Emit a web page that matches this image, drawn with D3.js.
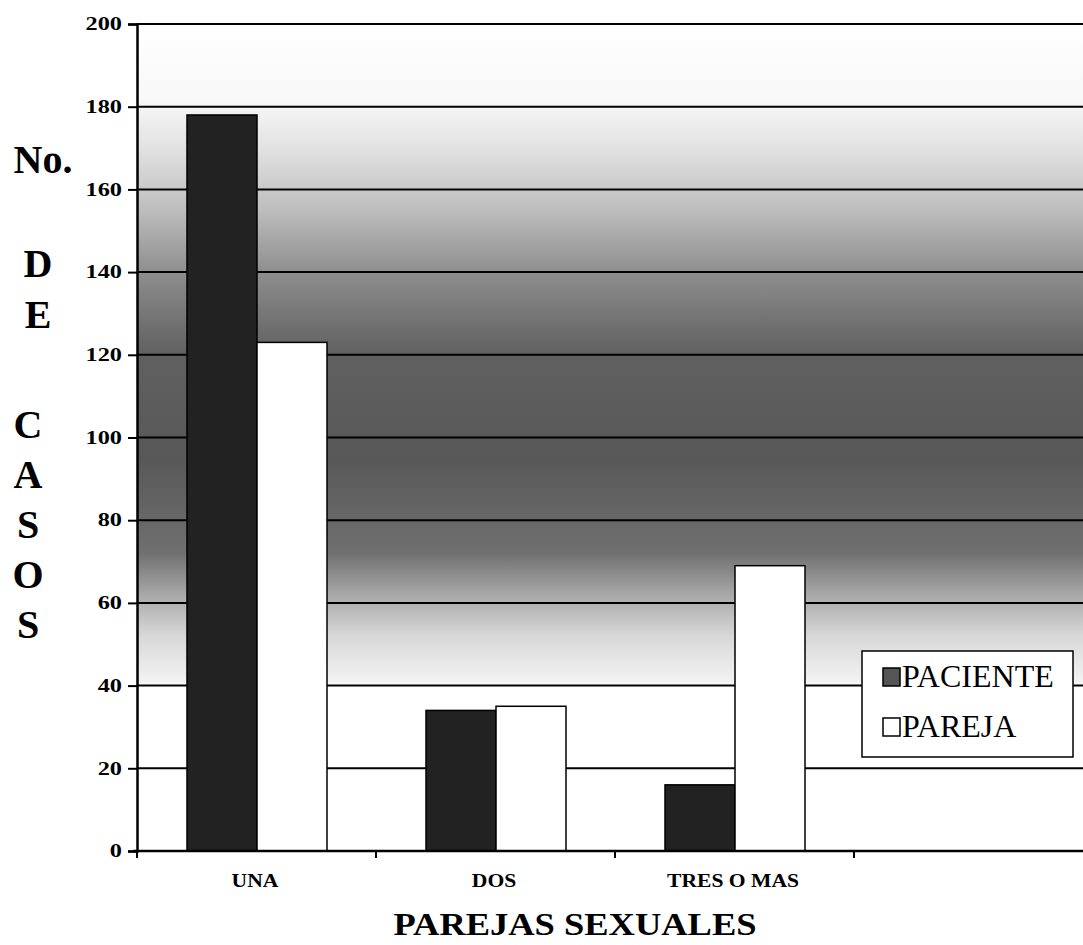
<!DOCTYPE html>
<html>
<head>
<meta charset="utf-8">
<script src="https://cdn.jsdelivr.net/npm/d3@7"></script>
<style>
  body { margin: 0; background: #fff; }
  text { font-family: "Liberation Serif", "Times New Roman", serif; fill: #000; }
</style>
</head>
<body>
<div id="chart"></div>
<script>
// data
const categories = ["UNA", "DOS", "TRES O MAS", ""];
const seriesNames = ["PACIENTE", "PAREJA"];
const paciente = [178, 34, 16];
const pareja = [123, 35, 69];
const yTicks = [0, 20, 40, 60, 80, 100, 120, 140, 160, 180, 200];
const yTitleTop = "No.";
const yTitleDe = ["D", "E"];
const yTitleCasos = ["C", "A", "S", "O", "S"];

const width = 1083,
  height = 945;

const svg = d3
  .select("#chart")
  .append("svg")
  .attr("width", width)
  .attr("height", height);

const y = d3.scaleLinear().domain([0, 200]).range([851, 24]);
const x = d3.scaleBand().domain(categories).range([137, 1093]);
const xSub = d3.scaleBand().domain(seriesNames).range([50, 190]);

// background shading of the plot area
const defs = svg.append("defs");
const grad = defs
  .append("linearGradient")
  .attr("id", "bg")
  .attr("gradientUnits", "userSpaceOnUse")
  .attr("x1", 0)
  .attr("x2", 0)
  .attr("y1", y(200))
  .attr("y2", y(0));
const stops = [
  [200, "#ffffff"],
  [182, "#f8f8f8"],
  [170, "#e2e2e2"],
  [155, "#bdbdbd"],
  [140, "#8e8e8e"],
  [120, "#606060"],
  [95, "#585858"],
  [72, "#707070"],
  [62, "#a8a8a8"],
  [52, "#d8d8d8"],
  [41, "#f2f2f2"],
  [40, "#ffffff"],
  [0, "#ffffff"],
];
grad
  .selectAll("stop")
  .data(stops)
  .join("stop")
  .attr("offset", (d) => (y(d[0]) - y(200)) / (y(0) - y(200)))
  .attr("stop-color", (d) => d[1]);

svg
  .append("rect")
  .attr("x", x.range()[0])
  .attr("y", y(200))
  .attr("width", width - x.range()[0])
  .attr("height", y(0) - y(200))
  .attr("fill", "url(#bg)");

// grid lines
svg
  .append("g")
  .selectAll("line")
  .data(yTicks)
  .join("line")
  .attr("x1", x.range()[0])
  .attr("x2", width)
  .attr("y1", (d) => y(d))
  .attr("y2", (d) => y(d))
  .attr("stroke", "#000")
  .attr("stroke-width", 2);

// bars
const rows = categories.slice(0, 3).map((c, i) => ({
  cat: c,
  values: [
    { key: "PACIENTE", value: paciente[i] },
    { key: "PAREJA", value: pareja[i] },
  ],
}));

const fills = { PACIENTE: "#222222", PAREJA: "#ffffff" };

svg
  .append("g")
  .selectAll("g")
  .data(rows)
  .join("g")
  .attr("transform", (d) => `translate(${x(d.cat)},0)`)
  .selectAll("rect")
  .data((d) => d.values)
  .join("rect")
  .attr("x", (d) => xSub(d.key))
  .attr("y", (d) => y(d.value))
  .attr("width", xSub.bandwidth())
  .attr("height", (d) => y(0) - y(d.value))
  .attr("fill", (d) => fills[d.key])
  .attr("stroke", "#000")
  .attr("stroke-width", 1.5);

// y axis
const tickScale = 1.35;
const yAxis = svg
  .append("g")
  .attr("transform", `translate(${x.range()[0]},0)`)
  .call(d3.axisLeft(y).tickValues(yTicks).tickSize(9).tickPadding(0));
yAxis.select(".domain").attr("stroke-width", 2.5);
yAxis.selectAll(".tick line").attr("stroke-width", 2);
yAxis
  .selectAll(".tick text")
  .attr("x", -15 / tickScale)
  .attr("transform", `scale(${tickScale},1)`)
  .style("font-family", "'Liberation Serif', serif")
  .style("font-weight", "bold")
  .style("font-size", "18px")
  .attr("fill", "#000");

// x axis
const xAxis = svg.append("g").attr("transform", `translate(0,${y(0)})`);
xAxis
  .append("line")
  .attr("x1", x.range()[0] - 4)
  .attr("x2", width)
  .attr("stroke", "#000")
  .attr("stroke-width", 2.5);
xAxis
  .selectAll("line.tick")
  .data(categories)
  .join("line")
  .attr("class", "tick")
  .attr("x1", (d) => x(d))
  .attr("x2", (d) => x(d))
  .attr("y1", 0)
  .attr("y2", 7)
  .attr("stroke", "#000")
  .attr("stroke-width", 2);
xAxis
  .selectAll("text")
  .data(categories.slice(0, 3))
  .join("text")
  .attr("transform", (d) => `translate(${x(d) + 118},36) scale(1.2,1)`)
  .attr("text-anchor", "middle")
  .style("font-weight", "bold")
  .style("font-size", "18px")
  .text((d) => d);

// axis titles
svg
  .append("text")
  .attr("transform", "translate(575,935) scale(1.14,1)")
  .attr("text-anchor", "middle")
  .style("font-weight", "bold")
  .style("font-size", "32px")
  .text("PAREJAS SEXUALES");

svg
  .append("text")
  .attr("x", 43)
  .attr("y", 173)
  .attr("text-anchor", "middle")
  .style("font-weight", "bold")
  .style("font-size", "40px")
  .text(yTitleTop);

svg
  .append("g")
  .selectAll("text")
  .data(yTitleDe)
  .join("text")
  .attr("x", 38)
  .attr("y", (d, i) => 277 + i * 51)
  .attr("text-anchor", "middle")
  .style("font-weight", "bold")
  .style("font-size", "40px")
  .text((d) => d);

svg
  .append("g")
  .selectAll("text")
  .data(yTitleCasos)
  .join("text")
  .attr("x", 28)
  .attr("y", (d, i) => 438 + i * 50)
  .attr("text-anchor", "middle")
  .style("font-weight", "bold")
  .style("font-size", "40px")
  .text((d) => d);

// legend
const legend = svg.append("g").attr("transform", "translate(862,651)");
legend
  .append("rect")
  .attr("width", 211)
  .attr("height", 106)
  .attr("fill", "#fff")
  .attr("stroke", "#000")
  .attr("stroke-width", 1.5);
const item = legend
  .selectAll("g")
  .data(seriesNames)
  .join("g")
  .attr("transform", (d, i) => `translate(21,${17 + i * 50})`);
item
  .append("rect")
  .attr("width", 17)
  .attr("height", 18)
  .attr("fill", (d) => (d === "PACIENTE" ? "#555" : "#fff"))
  .attr("stroke", "#000")
  .attr("stroke-width", 1.5);
item
  .append("text")
  .attr("x", 19)
  .attr("y", 19)
  .style("font-size", "32px")
  .text((d) => d);
</script>
</body>
</html>
